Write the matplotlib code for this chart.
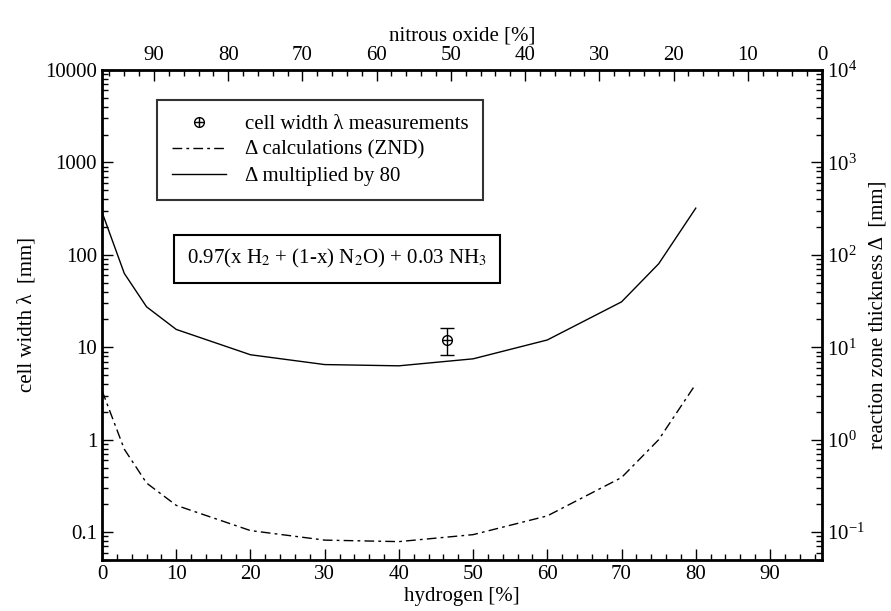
import matplotlib
matplotlib.use("Agg")
import matplotlib.pyplot as plt
import matplotlib.ticker as ticker
from matplotlib.lines import Line2D
import numpy as np

plt.rcParams['font.family'] = ['Liberation Serif', 'DejaVu Serif']
plt.rcParams['mathtext.fontset'] = 'stix'
plt.rcParams['font.size'] = 15

# hydrogen content [%] of the calculated points
h2 = [0, 3, 6, 10, 20, 30, 40, 50, 60, 70, 75, 80]
# reaction zone thickness (ZND) [mm]
delta = [3.4, 0.79, 0.34, 0.195, 0.104, 0.082, 0.079, 0.094, 0.15, 0.39, 1.0, 4.0]
# same curve multiplied by 80 [mm]
delta80 = [290, 63, 27.4, 15.6, 8.3, 6.5, 6.3, 7.5, 12, 31, 80, 320]

# measured cell width
meas_h2 = [46.5]
meas_lam = [12]
meas_lo = [8.2]
meas_hi = [16]

x_ticks = list(range(0, 100, 10))
n2o_ticks = list(range(0, 100, 10))
y_ticks = [0.1, 1, 10, 100, 1000, 10000]

fig = plt.figure(figsize=(8.91, 6.11), dpi=100)
ax = fig.add_axes([0.1145, 0.0835, 0.808, 0.802])

ax.plot(h2, delta, color='black', lw=1.0, dashes=(7, 3, 2, 3))
ax.plot(h2, delta80, color='black', lw=1.0)

yerr = [[m - lo for m, lo in zip(meas_lam, meas_lo)],
        [hi - m for m, hi in zip(meas_lam, meas_hi)]]
ax.errorbar(meas_h2, meas_lam, yerr=yerr, fmt='none', ecolor='black',
            elinewidth=1.0, capsize=5, capthick=1.0)
m1, = ax.plot(meas_h2, meas_lam, 'o', ms=7, mfc='white', mec='black', mew=1.0)
m2, = ax.plot(meas_h2, meas_lam, '+', ms=7, mec='black', mew=1.0)

ax.set_yscale('log')
ax.set_xlim(0, 97)
ax.set_ylim(0.05, 10000)

ax.xaxis.set_major_locator(ticker.FixedLocator(x_ticks))
ax.xaxis.set_minor_locator(ticker.MultipleLocator(2))
ax.yaxis.set_major_locator(ticker.FixedLocator(y_ticks))
ax.yaxis.set_minor_locator(ticker.LogLocator(base=10, subs=np.arange(2, 10)))
ax.yaxis.set_minor_formatter(ticker.NullFormatter())
ax.yaxis.set_major_formatter(ticker.FuncFormatter(lambda v, _: f'{v:g}'))

for s in ax.spines.values():
    s.set_linewidth(2.0)
ax.tick_params(which='both', direction='in', width=1.0)
ax.tick_params(which='major', length=8)
ax.tick_params(which='minor', length=4)

ax.set_xlabel('hydrogen [%]', labelpad=2)
ax.set_ylabel('cell width λ  [mm]', labelpad=6)

# top axis: nitrous oxide = 97 - hydrogen
top = ax.secondary_xaxis('top', functions=(lambda h: 97 - h, lambda n: 97 - n))
top.xaxis.set_major_locator(ticker.FixedLocator(n2o_ticks))
top.xaxis.set_minor_locator(ticker.FixedLocator(list(range(0, 98, 2))))
top.tick_params(which='both', direction='in', width=1.0)
top.tick_params(which='major', length=8)
top.tick_params(which='minor', length=4)
top.set_xlabel('nitrous oxide [%]', labelpad=4)

right = ax.secondary_yaxis('right')
right.yaxis.set_major_locator(ticker.FixedLocator(y_ticks))
right.yaxis.set_minor_locator(ticker.LogLocator(base=10, subs=np.arange(2, 10)))
right.yaxis.set_minor_formatter(ticker.NullFormatter())
right.yaxis.set_major_formatter(ticker.LogFormatterSciNotation())
right.tick_params(which='both', direction='in', width=1.0)
right.tick_params(which='major', length=8)
right.tick_params(which='minor', length=4)
right.set_ylabel('reaction zone thickness Δ  [mm]', labelpad=3)

h_dash = Line2D([], [], color='black', lw=1.0, dashes=(7, 3, 2, 3))
h_solid = Line2D([], [], color='black', lw=1.0)
leg = ax.legend([(m1, m2), h_dash, h_solid],
                ['cell width λ measurements', 'Δ calculations (ZND)', 'Δ multiplied by 80'],
                loc='upper left', bbox_to_anchor=(0.062, 0.96), frameon=True,
                fancybox=False, edgecolor='black', handlelength=2.6,
                borderpad=0.7, labelspacing=0.3, handletextpad=0.9, fontsize=15)
leg.get_frame().set_linewidth(1.5)

ax.text(0.118, 0.615, '0.97(x H$_2$ + (1-x) N$_2$O) + 0.03 NH$_3$',
        transform=ax.transAxes, ha='left', va='center', fontsize=15,
        bbox=dict(boxstyle='square,pad=0.6', fc='white', ec='black', lw=1.5))

fig.savefig('out.png', dpi=100)
